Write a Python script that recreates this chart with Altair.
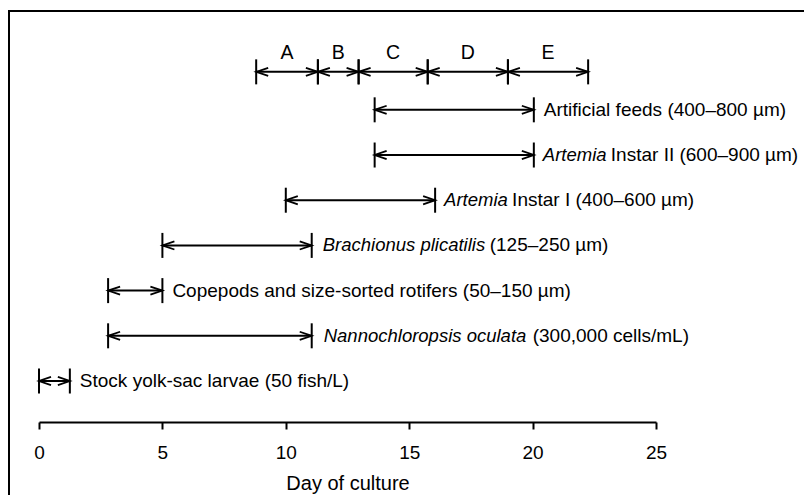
import altair as alt
import pandas as pd

# ---- data ----
stage_names = ["A", "B", "C", "D", "E"]
stage_starts = [8.8, 11.3, 12.95, 15.75, 19.0]
stage_ends = [11.3, 12.95, 15.75, 19.0, 22.25]
stage_row = 7.84
stage_letter_row = 8.26

item_italic = ["", "Artemia", "Artemia", "Brachionus plicatilis", "",
               "Nannochloropsis oculata", ""]
item_plain = ["Artificial feeds (400–800 µm)", "Instar II (600–900 µm)",
              "Instar I (400–600 µm)", "(125–250 µm)",
              "Copepods and size-sorted rotifers (50–150 µm)",
              "(300,000 cells/mL)", "Stock yolk-sac larvae (50 fish/L)"]
item_start = [13.6, 13.6, 10.0, 5.0, 2.8, 2.8, 0.0]
item_end = [20.05, 20.05, 16.05, 11.05, 5.0, 11.05, 1.25]
item_row = [7, 6, 5, 4, 3, 2, 1]

x_ticks = [0, 5, 10, 15, 20, 25]

# ---- tables ----
seg = pd.DataFrame({
    "start": stage_starts + item_start,
    "end": stage_ends + item_end,
    "row": [stage_row] * len(stage_names) + item_row,
})
letters = pd.DataFrame({
    "label": stage_names,
    "mid": [(a + b) / 2 for a, b in zip(stage_starts, stage_ends)],
    "row": [stage_letter_row] * len(stage_names),
})
items = pd.DataFrame({"italic": item_italic, "plain": item_plain,
                      "end": item_end, "row": item_row})

FONT = "Liberation Sans"
W, H = 617, 392
PAD_L, PAD_T = 31, 22
TOTAL_W, TOTAL_H = 796, 487
xscale = alt.Scale(domain=[0, 25], nice=False, zero=False)
yscale = alt.Scale(domain=[0.093, 8.766], nice=False, zero=False)

VTICK = "M0,-1L0,1"
LARROW = "M2,-0.68L0,0L2,0.68"
RARROW = "M-2,-0.68L0,0L-2,0.68"

Y = alt.Y("row:Q", scale=yscale, axis=None)
base = alt.Chart(seg)

lines = base.mark_rule(color="black", strokeWidth=2).encode(
    x=alt.X("start:Q", scale=xscale,
            axis=alt.Axis(values=x_ticks, format="d", title="Day of culture")),
    x2="end:Q", y=Y)

def sym(field, shape, size, sw):
    return base.mark_point(shape=shape, size=size, filled=False, color="black",
                           strokeWidth=sw, opacity=1).encode(
        x=alt.X(f"{field}:Q", scale=xscale), y=Y)

t_start = sym("start", VTICK, 625, 2)
t_end = sym("end", VTICK, 625, 2)
a_start = sym("start", LARROW, 144, 1.8)
a_end = sym("end", RARROW, 144, 1.8)

letter_text = alt.Chart(letters).mark_text(
    font=FONT, fontSize=19.5, color="black", baseline="middle", align="center"
).encode(x=alt.X("mid:Q", scale=xscale), y=alt.Y("row:Q", scale=yscale),
         text="label:N")

# (italic part, dx of italic part, dx of plain part)
label_offsets = [("", 0, 10), ("Artemia", 9, 77),
                 ("Brachionus plicatilis", 11, 178),
                 ("Nannochloropsis oculata", 12, 221)]

text_layers = []
for it, idx, pdx in label_offsets:
    sub = items[items["italic"] == it]
    text_layers.append(alt.Chart(sub).mark_text(
        font=FONT, fontSize=19, color="black", baseline="middle",
        align="left", dx=pdx).encode(
        x=alt.X("end:Q", scale=xscale), y=alt.Y("row:Q", scale=yscale),
        text="plain:N"))
    if it:
        text_layers.append(alt.Chart(sub).mark_text(
            font=FONT, fontSize=18.5, fontStyle="italic", color="black",
            baseline="middle", align="left", dx=idx).encode(
            x=alt.X("end:Q", scale=xscale), y=alt.Y("row:Q", scale=yscale),
            text="italic:N"))

one = pd.DataFrame({"k": [0]})
frame_top = alt.Chart(one).mark_rule(color="black", strokeWidth=2).encode(
    x=alt.value(-30), x2=alt.value(TOTAL_W - PAD_L + 10), y=alt.value(-19))
frame_left = alt.Chart(one).mark_rule(color="black", strokeWidth=2).encode(
    x=alt.value(-30), y=alt.value(-20), y2=alt.value(TOTAL_H - PAD_T))

chart = alt.layer(frame_top, frame_left, lines, t_start, t_end, a_start, a_end,
                  letter_text, *text_layers).properties(
    width=W, height=H,
    autosize=alt.AutoSizeParams(type="none"),
    padding={"left": PAD_L, "top": PAD_T, "right": TOTAL_W - PAD_L - W,
             "bottom": TOTAL_H - PAD_T - H},
).configure_view(strokeWidth=0).configure_axis(
    grid=False, domainColor="black", domainWidth=2, tickColor="black",
    tickWidth=2, tickSize=7, labelFont=FONT, labelFontSize=19,
    labelColor="black", labelPadding=14, titleFont=FONT, titleFontSize=20,
    titleFontWeight="normal", titleColor="black", titlePadding=11,
    labelFlush=False,
)

chart.save("out.html", embed_options={"renderer": "svg", "actions": False})
